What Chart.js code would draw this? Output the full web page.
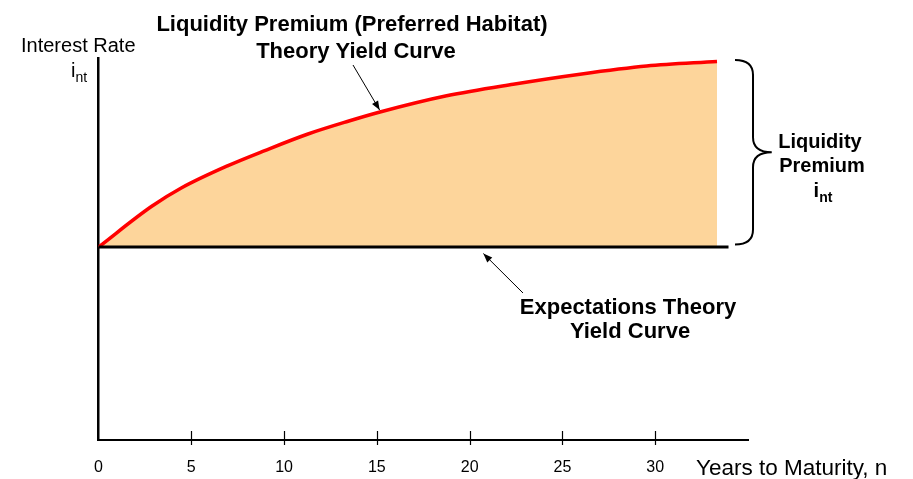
<!DOCTYPE html>
<html>
<head>
<meta charset="utf-8">
<script src="https://cdn.jsdelivr.net/npm/chart.js@4/dist/chart.umd.min.js"></script>
<style>
  html, body { margin: 0; padding: 0; background: #ffffff; }
  #wrap { width: 913px; height: 479px; }
</style>
</head>
<body>
<div id="wrap"><canvas id="yc" width="913" height="479"></canvas></div>
<script>
// Liquidity premium (preferred habitat) yield curve: maturity in years vs. rate level
const years = [0, 2.85, 4.46, 6.98, 8.96, 11.29, 13.45, 15.17, 18.76, 22.35, 25.95, 29.54, 33.33];
const liquidityYield = [5, 6.05, 6.53, 7.11, 7.5, 7.93, 8.26, 8.5, 8.92, 9.22, 9.48, 9.69, 9.81];

// Expectations theory yield curve: flat
const expectationsYears = [0, 33.95];
const expectationsYield = [5, 5];

// Labelled ticks on the maturity axis
const tickValues = [0, 5, 10, 15, 20, 25, 30];

const FONT = '"Liberation Sans", Arial, Helvetica, sans-serif';

function toPoints(xs, ys) {
  return xs.map((x, i) => ({ x: x, y: ys[i] }));
}

function arrow(ctx, x1, y1, x2, y2) {
  ctx.save();
  ctx.strokeStyle = '#000';
  ctx.fillStyle = '#000';
  ctx.lineWidth = 1;
  ctx.beginPath();
  ctx.moveTo(x1, y1);
  ctx.lineTo(x2, y2);
  ctx.stroke();
  const a = Math.atan2(y2 - y1, x2 - x1);
  const len = 9, half = 3.5;
  ctx.beginPath();
  ctx.moveTo(x2, y2);
  ctx.lineTo(x2 - len * Math.cos(a) + half * Math.sin(a), y2 - len * Math.sin(a) - half * Math.cos(a));
  ctx.lineTo(x2 - len * Math.cos(a) - half * Math.sin(a), y2 - len * Math.sin(a) + half * Math.cos(a));
  ctx.closePath();
  ctx.fill();
  ctx.restore();
}

// "i" with subscript "nt"
function subscriptI(ctx, x, baseline, size, bold, align) {
  const w = bold ? 'bold ' : '';
  ctx.font = w + size + 'px ' + FONT;
  const wi = ctx.measureText('i').width;
  ctx.font = w + Math.round(size * 0.68) + 'px ' + FONT;
  const wn = ctx.measureText('nt').width;
  let start = x;
  if (align === 'center') start = x - (wi + wn) / 2;
  ctx.textAlign = 'left';
  ctx.textBaseline = 'alphabetic';
  ctx.font = w + size + 'px ' + FONT;
  ctx.fillText('i', start, baseline);
  ctx.font = w + Math.round(size * 0.68) + 'px ' + FONT;
  ctx.fillText('nt', start + wi, baseline + size * 0.25);
}

const decorations = {
  id: 'decorations',
  afterDraw(chart) {
    const ctx = chart.ctx;
    const xs = chart.scales.x;
    const ys = chart.scales.y;
    const bottom = chart.chartArea.bottom;

    ctx.save();
    // tick marks crossing the maturity axis
    ctx.strokeStyle = '#000';
    ctx.lineWidth = 1.2;
    tickValues.forEach(v => {
      if (v === 0) return;
      const px = Math.round(xs.getPixelForValue(v)) + 0.5;
      ctx.beginPath();
      ctx.moveTo(px, bottom - 9);
      ctx.lineTo(px, bottom + 5);
      ctx.stroke();
    });

    // brace spanning the premium between the two curves
    const last = years.length - 1;
    const yTop = ys.getPixelForValue(liquidityYield[last]) - 1.5;
    const yBot = ys.getPixelForValue(expectationsYield[0]) - 2.5;
    const yMid = (yTop + yBot) / 2;
    const xL = xs.getPixelForValue(34.3);
    const xM = xs.getPixelForValue(35.27);
    const xR = xs.getPixelForValue(36.28);
    const r = 15;
    ctx.lineWidth = 2;
    ctx.beginPath();
    ctx.moveTo(xL, yTop);
    ctx.quadraticCurveTo(xM, yTop, xM, yTop + r);
    ctx.lineTo(xM, yMid - r);
    ctx.quadraticCurveTo(xM, yMid, xR, yMid);
    ctx.quadraticCurveTo(xM, yMid, xM, yMid + r);
    ctx.lineTo(xM, yBot - r);
    ctx.quadraticCurveTo(xM, yBot, xL, yBot);
    ctx.stroke();

    // pointers to each curve
    arrow(ctx, 353, 65, xs.getPixelForValue(15.15), ys.getPixelForValue(8.55));
    arrow(ctx, 523, 293, xs.getPixelForValue(20.74), ys.getPixelForValue(5) + 6.5);

    ctx.fillStyle = '#000';
    // titles
    ctx.font = 'bold 22px ' + FONT;
    ctx.textAlign = 'center';
    ctx.textBaseline = 'alphabetic';
    ctx.fillText('Liquidity Premium (Preferred Habitat)', 352, 31);
    ctx.fillText('Theory Yield Curve', 356, 58);

    ctx.fillText('Expectations Theory', 628, 314);
    ctx.fillText('Yield Curve', 630, 338);

    ctx.font = 'bold 20px ' + FONT;
    ctx.fillText('Liquidity', 820, 148);
    ctx.fillText('Premium', 822, 172);
    subscriptI(ctx, 823, 197, 20, true, 'center');

    // axis captions
    ctx.font = '20px ' + FONT;
    ctx.textAlign = 'left';
    ctx.fillText('Interest Rate', 21, 51.5);
    subscriptI(ctx, 71, 76.5, 20, false, 'left');

    ctx.font = '22.5px ' + FONT;
    ctx.fillText('Years to Maturity, n', 696, 475);
    ctx.restore();
  }
};

new Chart(document.getElementById('yc'), {
  type: 'line',
  data: {
    datasets: [
      {
        label: 'Expectations Theory Yield Curve',
        data: toPoints(expectationsYears, expectationsYield),
        borderColor: '#000000',
        borderWidth: 3,
        pointRadius: 0,
        fill: false,
        tension: 0
      },
      {
        label: 'Liquidity Premium (Preferred Habitat) Theory Yield Curve',
        data: toPoints(years, liquidityYield),
        borderColor: '#ff0000',
        borderWidth: 3.5,
        backgroundColor: '#fdd59b',
        pointRadius: 0,
        fill: { value: 5 },
        cubicInterpolationMode: 'monotone'
      }
    ]
  },
  options: {
    responsive: false,
    animation: false,
    layout: { padding: { left: 98.5, right: 165, top: 58, bottom: 0 } },
    plugins: {
      legend: { display: false },
      tooltip: { enabled: false },
      title: { display: false }
    },
    scales: {
      x: {
        type: 'linear',
        min: 0,
        max: 35,
        grid: { display: false },
        border: { display: true, color: '#000', width: 2 },
        afterBuildTicks(scale) {
          scale.ticks = tickValues.map(v => ({ value: v }));
        },
        afterFit(scale) {
          scale.height = 39;
        },
        ticks: {
          autoSkip: false,
          maxRotation: 0,
          padding: 10,
          color: '#000',
          font: { family: FONT, size: 16 }
        }
      },
      y: {
        type: 'linear',
        min: 0,
        max: 9.9,
        grid: { display: false },
        border: { display: true, color: '#000', width: 2.5 },
        afterFit(scale) {
          scale.width = 0;
        },
        ticks: { display: false }
      }
    }
  },
  plugins: [decorations]
});
</script>
</body>
</html>
